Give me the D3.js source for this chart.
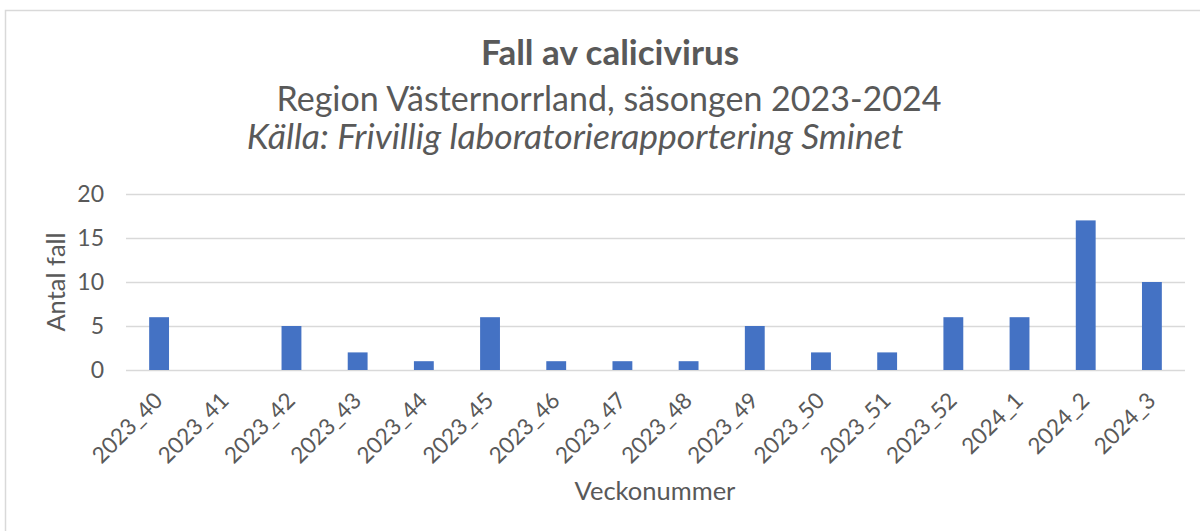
<!DOCTYPE html>
<html>
<head>
<meta charset="utf-8">
<script src="https://cdn.jsdelivr.net/npm/d3@7"></script>
<style>
  body { margin: 0; background: #fff; }
  text { font-family: Lato, "Open Sans", sans-serif; fill: #595959; }
</style>
</head>
<body>
<div class="chart"></div>
<script>
var width = 1200
var height = 531
var margin = { top: 194, right: 15, bottom: 161, left: 126 }
var plotWidth = width - margin.left - margin.right
var plotHeight = height - margin.top - margin.bottom

// veckor och antal fall
var weeks = ['2023_40', '2023_41', '2023_42', '2023_43', '2023_44', '2023_45', '2023_46', '2023_47',
    '2023_48', '2023_49', '2023_50', '2023_51', '2023_52', '2024_1', '2024_2', '2024_3']
var cases = [6, 0, 5, 2, 1, 6, 1, 1, 1, 5, 2, 2, 6, 6, 17, 10]
var yTicks = [0, 5, 10, 15, 20]

var titleText = 'Fall av calicivirus'
var subtitleText = 'Region Västernorrland, säsongen 2023-2024'
var sourceText = 'Källa: Frivillig laboratorierapportering Sminet'
var xTitle = 'Veckonummer'
var yTitle = 'Antal fall'

var svg = d3.select('.chart').append('svg')
    .attr('width', width)
    .attr('height', height)

// ram runt diagrammet
svg.append('rect')
    .attr('x', 5.5)
    .attr('y', 10.5)
    .attr('width', width)
    .attr('height', height)
    .attr('fill', 'none')
    .attr('stroke', '#d9d9d9')
    .attr('stroke-width', 1.5)

var scaleX = d3.scaleBand().domain(weeks).range([0, plotWidth])
    .paddingInner(0.7).paddingOuter(0.35)
var scaleY = d3.scaleLinear().domain([0, 20]).range([plotHeight, 0])

var plot = svg.append('g')
    .attr('transform', 'translate(' + margin.left + ',' + margin.top + ')')

// rutnät
var grid = plot.append('g')
    .call(d3.axisLeft(scaleY).tickValues(yTicks).tickSize(-plotWidth).tickFormat(''))
grid.select('.domain').remove()
grid.selectAll('line').attr('stroke', '#d9d9d9').attr('stroke-width', 1.5)

// y-etiketter
var yAxis = plot.append('g')
    .call(d3.axisLeft(scaleY).tickValues(yTicks).tickSize(0).tickPadding(22))
yAxis.select('.domain').remove()
yAxis.selectAll('text')
    .attr('font-size', 23)
    .attr('font-family', null)
    .attr('fill', null)

// staplar
plot.selectAll('.bar')
    .data(cases)
    .enter()
    .append('rect')
    .attr('class', 'bar')
    .attr('x', (d, i) => scaleX(weeks[i]))
    .attr('width', scaleX.bandwidth())
    .attr('y', d => scaleY(d))
    .attr('height', d => plotHeight - scaleY(d))
    .attr('fill', '#4472c4')

// x-etiketter
var xAxis = plot.append('g')
    .attr('transform', 'translate(0,' + plotHeight + ')')
    .call(d3.axisBottom(scaleX).tickSize(0).tickPadding(0))
xAxis.select('.domain').remove()
xAxis.selectAll('text')
    .attr('font-size', 22.5)
    .attr('font-family', null)
    .attr('fill', null)
    .attr('text-anchor', 'end')
    .attr('dy', 0)
    .attr('y', 0)
    .attr('transform', 'translate(5,32) rotate(-45)')

// titlar
svg.append('text')
    .attr('x', 610).attr('y', 65)
    .attr('text-anchor', 'middle')
    .attr('font-size', 35)
    .attr('font-weight', 'bold')
    .text(titleText)

svg.append('text')
    .attr('x', 609).attr('y', 111)
    .attr('text-anchor', 'middle')
    .attr('font-size', 34)
    .text(subtitleText)

svg.append('text')
    .attr('x', 575).attr('y', 149)
    .attr('text-anchor', 'middle')
    .attr('font-size', 35.5)
    .attr('font-style', 'italic')
    .text(sourceText)

svg.append('text')
    .attr('x', 655).attr('y', 500)
    .attr('text-anchor', 'middle')
    .attr('font-size', 25.5)
    .text(xTitle)

svg.append('text')
    .attr('transform', 'translate(65,' + (margin.top + plotHeight / 2) + ') rotate(-90)')
    .attr('text-anchor', 'middle')
    .attr('font-size', 25.5)
    .text(yTitle)
</script>
</body>
</html>
